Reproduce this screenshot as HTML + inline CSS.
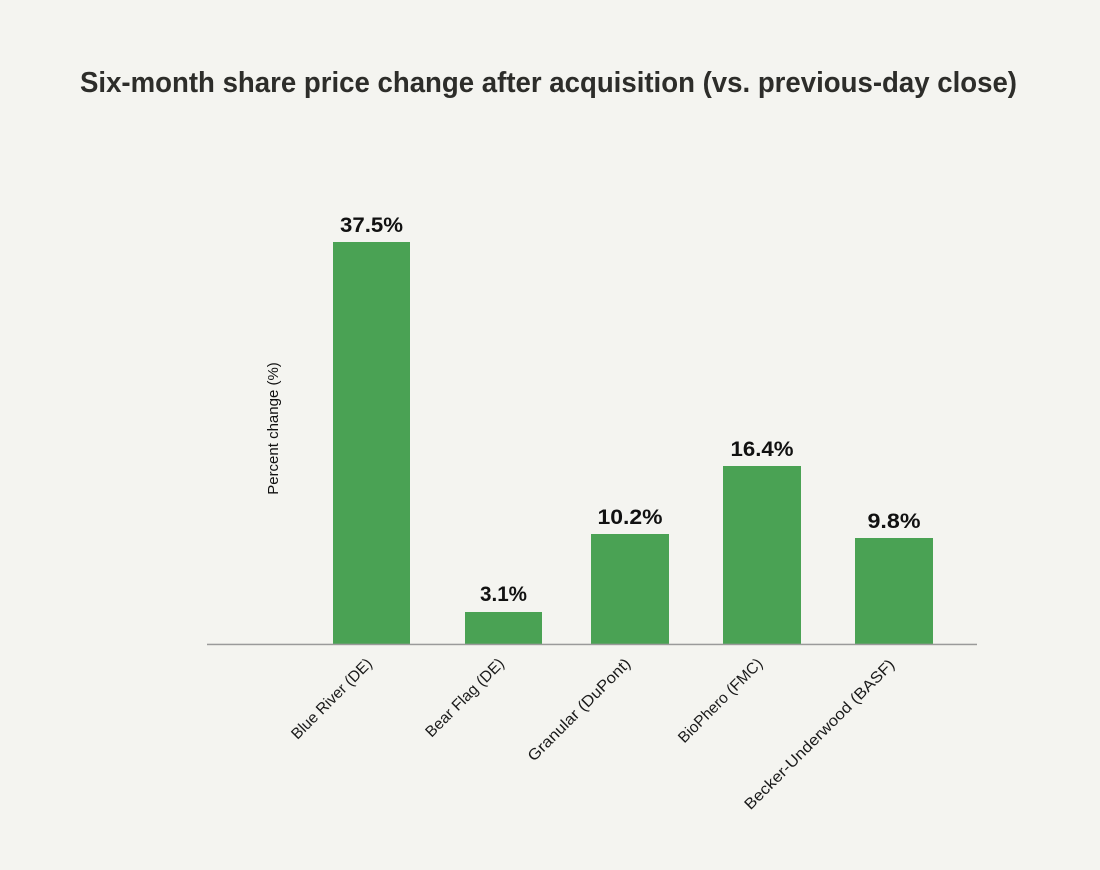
<!DOCTYPE html>
<html>
<head>
<meta charset="utf-8">
<style>
  html, body { margin: 0; padding: 0; background: #f4f4f0; }
  svg { display: block; }
</style>
</head>
<body>
<svg width="1100" height="870" viewBox="0 0 1100 870" xmlns="http://www.w3.org/2000/svg">
  <rect x="0" y="0" width="1100" height="870" fill="#f4f4f0"/>
  <!-- Title -->
  <text x="548.5" y="92" text-anchor="middle" font-family="Liberation Sans, sans-serif" font-weight="bold" font-size="29" fill="#2d2d2a" textLength="937" lengthAdjust="spacingAndGlyphs">Six-month share price change after acquisition (vs. previous-day close)</text>

  <!-- Bars -->
  <g fill="#4aa254">
    <rect x="333" y="242" width="77" height="402"/>
    <rect x="465" y="612" width="77" height="32"/>
    <rect x="591" y="534" width="78" height="110"/>
    <rect x="723" y="466" width="78" height="178"/>
    <rect x="855" y="538" width="78" height="106"/>
  </g>

  <!-- Axis line -->
  <rect x="207" y="643.7" width="770" height="1.5" fill="#9a9a9a"/>

  <!-- Value labels -->
  <g font-family="Liberation Sans, sans-serif" font-weight="bold" font-size="21" fill="#111" text-anchor="middle">
    <text x="371.5" y="232" textLength="63" lengthAdjust="spacingAndGlyphs">37.5%</text>
    <text x="503.5" y="601" textLength="47" lengthAdjust="spacingAndGlyphs">3.1%</text>
    <text x="630" y="524" textLength="65" lengthAdjust="spacingAndGlyphs">10.2%</text>
    <text x="762" y="456" textLength="63" lengthAdjust="spacingAndGlyphs">16.4%</text>
    <text x="894" y="528" textLength="53" lengthAdjust="spacingAndGlyphs">9.8%</text>
  </g>

  <!-- Y axis label -->
  <text transform="translate(278,428.5) rotate(-90)" text-anchor="middle" font-family="Liberation Sans, sans-serif" font-size="15" fill="#111">Percent change (%)</text>

  <!-- X labels -->
  <g font-family="Liberation Sans, sans-serif" font-size="15.5" fill="#1a1a1a" text-anchor="end">
    <text transform="translate(373,664.5) rotate(-45)" textLength="107" lengthAdjust="spacingAndGlyphs">Blue River (DE)</text>
    <text transform="translate(505,664.5) rotate(-45)" textLength="104" lengthAdjust="spacingAndGlyphs">Bear Flag (DE)</text>
    <text transform="translate(631.5,664.5) rotate(-45)" textLength="138" lengthAdjust="spacingAndGlyphs">Granular (DuPont)</text>
    <text transform="translate(763.5,664.5) rotate(-45)" textLength="112" lengthAdjust="spacingAndGlyphs">BioPhero (FMC)</text>
    <text transform="translate(895.5,665.5) rotate(-45)" textLength="205" lengthAdjust="spacingAndGlyphs">Becker-Underwood (BASF)</text>
  </g>
</svg>
</body>
</html>
